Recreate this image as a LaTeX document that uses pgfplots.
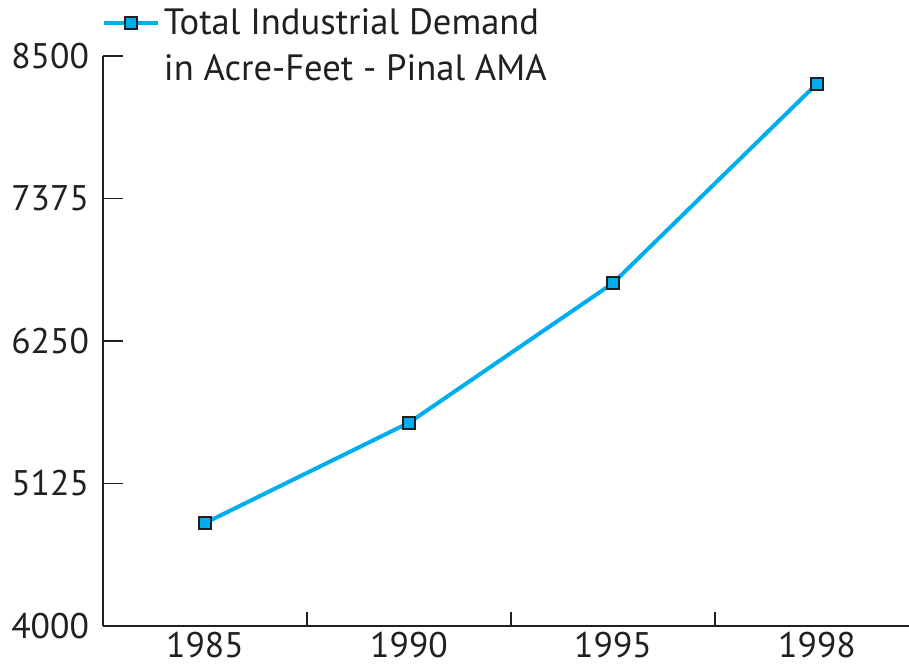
\documentclass[border=0pt]{standalone}
\usepackage{fontspec}
\setmainfont{PT Sans}
\usepackage{pgfplots}
\pgfplotsset{compat=1.18}
\definecolor{linecyan}{HTML}{00AEEF}
\definecolor{inkdark}{HTML}{231F20}
\newcommand{\tickfont}{\fontsize{17.8}{21}\selectfont}
\newcommand{\legfont}{\fontsize{18.3}{22.85}\selectfont}
\begin{document}
\begin{tikzpicture}
\begin{axis}[
  scale only axis,
  width=403pt, height=285pt,
  xmin=-0.5, xmax=3.451,
  ymin=4000, ymax=8500,
  axis x line*=bottom, axis y line*=left,
  axis line style={inkdark, line width=0.8pt, -},
  tick align=inside,
  xtick={0,1,2,3},
  xticklabels={1985,1990,1995,1998},
  minor xtick={0.5,1.5,2.5},
  major x tick style={draw=none},
  minor x tick style={inkdark, line width=0.8pt},
  minor tick length=7pt,
  ytick={4000,5125,6250,7375,8500},
  major tick length=10pt,
  y tick style={inkdark, line width=0.8pt},
  /pgf/number format/assume math mode=true,
  /pgf/number format/set thousands separator={},
  tick label style={font=\tickfont, text=inkdark},
  yticklabel style={xshift=-3.5pt},
  xticklabel style={yshift=0.3pt},
  clip=false,
  legend cell align=left,
  legend style={at={(0,1)}, anchor=south west, xshift=-0.7pt, yshift=-16pt,
    draw=none, fill=none, inner sep=0pt, font=\legfont, text=inkdark,
    cells={align=left}},
  legend image code/.code={
    \path[draw=none] (0pt,-14.4pt) -- (27pt,-14.4pt);
    \draw[#1, mark repeat=2, mark phase=2]
      plot coordinates {(0pt,11.4pt) (13.5pt,11.4pt) (27pt,11.4pt)};
  },
]
\addplot[linecyan, line width=2pt, mark=square*, mark size=3pt,
  mark options={fill=linecyan, draw=inkdark, line width=1pt}]
  coordinates {(0,4813) (1,5605) (2,6707) (3,8282)};
\addlegendentry{Total Industrial Demand\\in Acre-Feet - Pinal AMA}
\end{axis}
\pgfresetboundingbox
\path[use as bounding box] ([shift={(-51.5pt,-20pt)}]current axis.south west)
  rectangle ([shift={(403pt,313pt)}]current axis.south west);
\end{tikzpicture}
\end{document}
